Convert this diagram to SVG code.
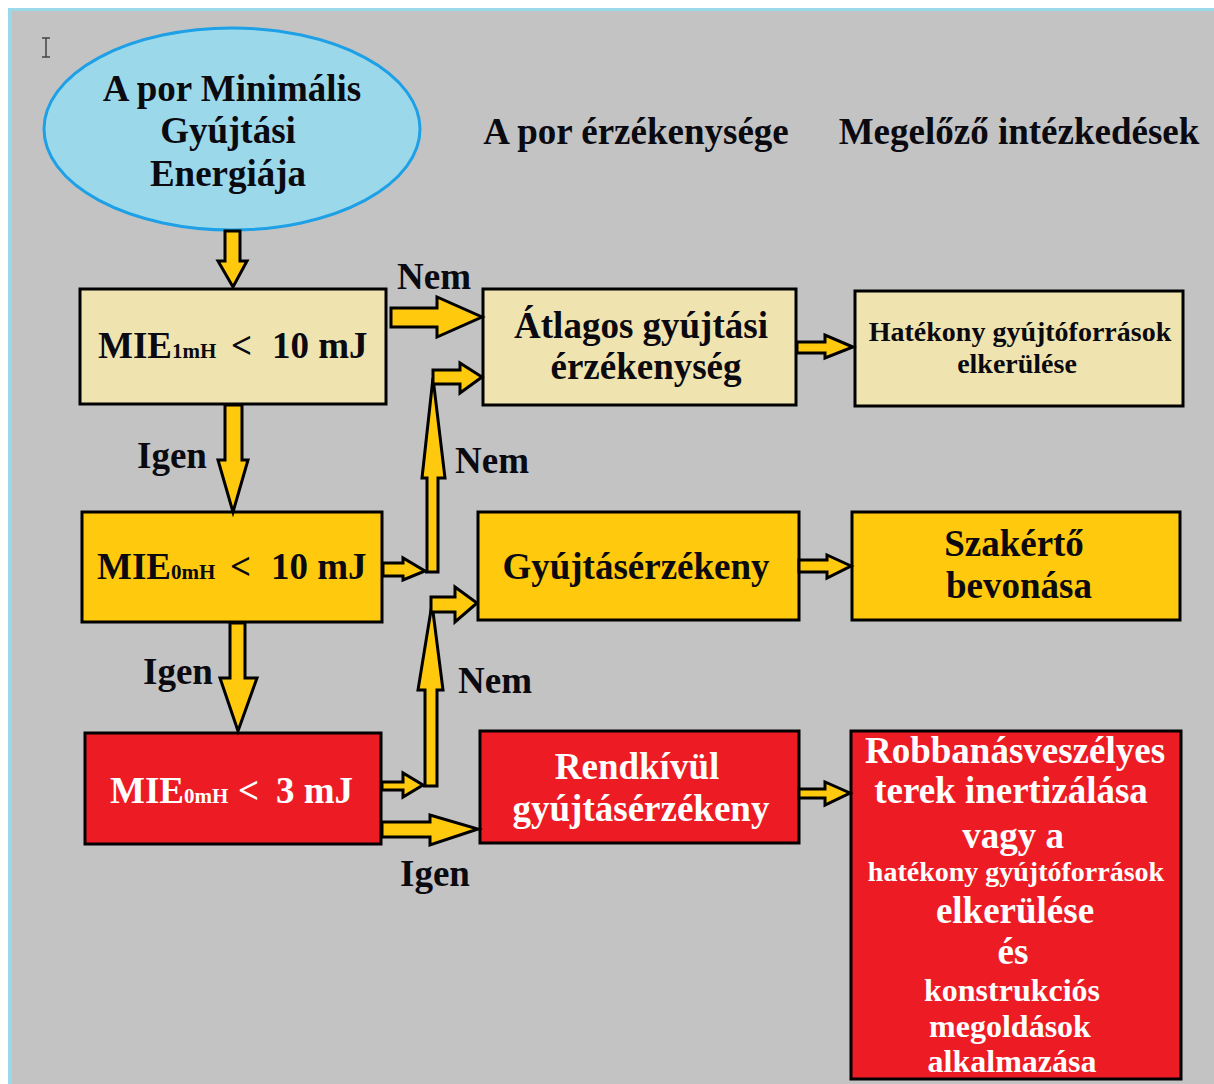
<svg xmlns="http://www.w3.org/2000/svg" width="1214" height="1084" viewBox="0 0 1214 1084">
<style>
text{font-family:'Liberation Serif','Times New Roman',serif;font-weight:700;fill:#0a0a10;font-size:37px}
.w{fill:#ffffff}
.c{text-anchor:middle}
.box{stroke:#000;stroke-width:3}
.beige{fill:#efe4b0}
.yel{fill:#ffc90e}
.red{fill:#ed1c24}
.arr{fill:#ffc90e;stroke:#000;stroke-width:3;stroke-linejoin:miter}
.sub{font-size:21px}
.sm{font-size:28px}
.md{font-size:32px}
</style>
<rect x="0" y="0" width="1214" height="1084" fill="#ffffff"/>
<rect x="8" y="8" width="1206" height="1076" fill="#99d9ea"/>
<rect x="12" y="11" width="1202" height="1073" fill="#c3c3c3"/>
<path d="M42 38h8M42 57h8M46 38v19" stroke="#444" stroke-width="1.5" fill="none"/>

<g id="n-mie">
<ellipse cx="232" cy="129" rx="188" ry="101" fill="#9bd8ea" stroke="#1ea0e6" stroke-width="3"/>
<text class="c" x="232" y="101">A por Minimális</text>
<text class="c" x="228" y="143">Gyújtási</text>
<text class="c" x="228" y="186">Energiája</text>
</g>

<g id="h-sens"><text class="c" x="636" y="144">A por érzékenysége</text></g>
<g id="h-prev"><text class="c" x="1019" y="144">Megelőző intézkedések</text></g>

<g id="n-q1">
<rect class="box beige" x="80" y="289" width="306" height="115"/>
<text y="358"><tspan x="98">MIE</tspan><tspan class="sub" x="172">1mH</tspan><tspan x="231">&lt;</tspan><tspan x="272">10 mJ</tspan></text>
</g>
<g id="n-atlag">
<rect class="box beige" x="483" y="289" width="313" height="116"/>
<text class="c" x="641" y="338">Átlagos gyújtási</text>
<text class="c" x="646" y="379">érzékenység</text>
</g>
<g id="n-hat">
<rect class="box beige" x="855" y="291" width="328" height="115"/>
<text class="c sm" x="1020" y="341">Hatékony gyújtóforrások</text>
<text class="c sm" x="1017" y="373">elkerülése</text>
</g>

<g id="n-q2">
<rect class="box yel" x="82" y="512" width="300" height="110"/>
<text y="579"><tspan x="97">MIE</tspan><tspan class="sub" x="171">0mH</tspan><tspan x="230">&lt;</tspan><tspan x="271">10 mJ</tspan></text>
</g>
<g id="n-gyujt">
<rect class="box yel" x="478" y="512" width="321" height="108"/>
<text class="c" x="636" y="579">Gyújtásérzékeny</text>
</g>
<g id="n-szak">
<rect class="box yel" x="852" y="512" width="328" height="108"/>
<text class="c" x="1014" y="556">Szakértő</text>
<text class="c" x="1019" y="598">bevonása</text>
</g>

<g id="n-q3">
<rect class="box red" x="85" y="733" width="296" height="111"/>
<text class="w" y="803"><tspan x="110">MIE</tspan><tspan class="sub" x="184">0mH</tspan><tspan x="238">&lt;</tspan><tspan x="276">3 mJ</tspan></text>
</g>
<g id="n-rend">
<rect class="box red" x="480" y="731" width="319" height="112"/>
<text class="c w" x="637" y="779">Rendkívül</text>
<text class="c w" x="641" y="821">gyújtásérzékeny</text>
</g>
<g id="n-robb">
<rect class="box red" x="851" y="731" width="330" height="348"/>
<text class="c w" x="1015" y="763">Robbanásveszélyes</text>
<text class="c w" x="1011" y="803">terek inertizálása</text>
<text class="c w" x="1013" y="848">vagy a</text>
<text class="c w sm" x="1016" y="881">hatékony gyújtóforrások</text>
<text class="c w" x="1015" y="923">elkerülése</text>
<text class="c w" x="1013" y="964">és</text>
<text class="c w md" x="1012" y="1001">konstrukciós</text>
<text class="c w md" x="1010" y="1037">megoldások</text>
<text class="c w md" x="1012" y="1072">alkalmazása</text>
</g>

<g id="connectors">
<path class="arr" d="M225 231H240V261H247L233 287L218 261H225Z"/>
<path class="arr" d="M225 405H242V460H248L233 512L218 460H225Z"/>
<path class="arr" d="M230 623H245V678H257L238 731L220 678H230Z"/>
<path class="arr" d="M391 308H437V297L482 317L437 337V327H391Z"/>
<path class="arr" d="M797 342H825V335L853 347L825 358V353H797Z"/>
<path class="arr" d="M799 560H827V555L851 566L827 578V572H799Z"/>
<path class="arr" d="M799 789H825V782L850 793L825 805V798H799Z"/>
<path class="arr" d="M382 822H430V815L478 829L430 845V837H382Z"/>
<path class="arr" d="M383 563H403V558L425 571L403 580V576H383Z"/>
<path class="arr" d="M425 572H438V478H445L433 378L422 478H427V572Z"/>
<path class="arr" d="M433 370H460V363L482 377L460 393V384H433Z"/>
<path class="arr" d="M382 782H403V773L423 785L403 797V790H382Z"/>
<path class="arr" d="M423 786H437V690H443L432 604L418 690H425V786Z"/>
<path class="arr" d="M431 597H455V587L477 603L455 622V612H431Z"/>
<text x="397" y="289">Nem</text>
<text x="137" y="468">Igen</text>
<text x="455" y="473">Nem</text>
<text x="143" y="684">Igen</text>
<text x="458" y="693">Nem</text>
<text x="400" y="886">Igen</text>
</g>
</svg>
